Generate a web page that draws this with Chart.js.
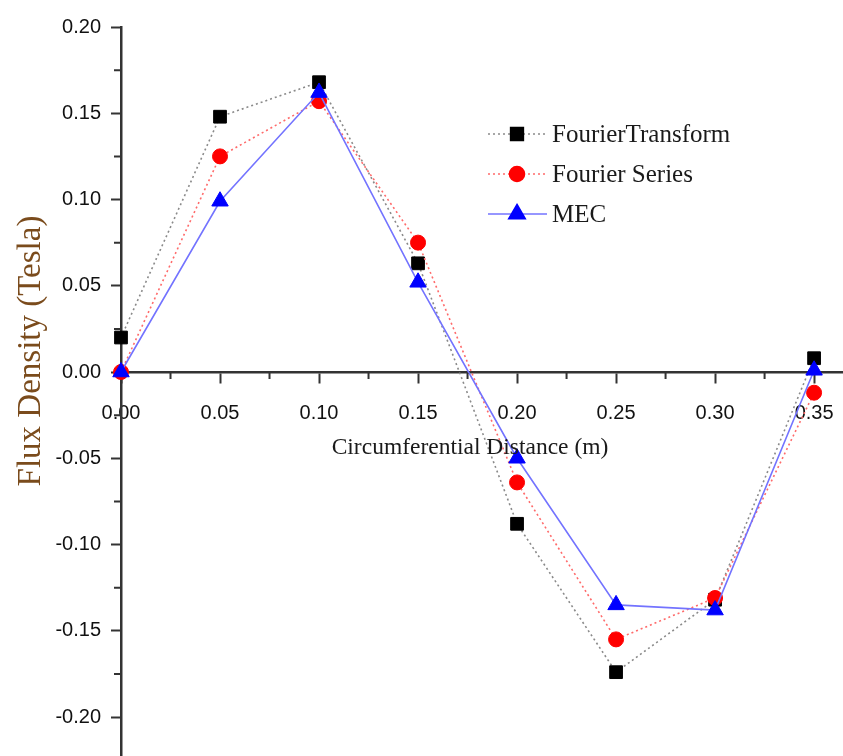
<!DOCTYPE html>
<html>
<head>
<meta charset="utf-8">
<script src="https://cdn.jsdelivr.net/npm/chart.js@4.4.0/dist/chart.umd.min.js"></script>
<style>
	html, body { margin: 0; padding: 0; background: #fff; }
	#wrap { width: 843px; height: 756px; position: relative; }
</style>
</head>
<body>
<div id="wrap"><canvas id="flux-chart" width="843" height="756"></canvas></div>
<script>
// data
var distance = [0.00, 0.05, 0.10, 0.15, 0.20, 0.25, 0.30, 0.35];
var fourierTransform = [0.020, 0.148, 0.168, 0.063, -0.088, -0.174, -0.132, 0.008];
var fourierSeries = [0.000, 0.125, 0.157, 0.075, -0.064, -0.155, -0.131, -0.012];
var mec = [0.000, 0.099, 0.162, 0.052, -0.050, -0.135, -0.138, 0.001];

var xTicks = [0.00, 0.05, 0.10, 0.15, 0.20, 0.25, 0.30, 0.35];
var yTicks = [-0.20, -0.15, -0.10, -0.05, 0.00, 0.05, 0.10, 0.15, 0.20];
var seriesNames = ["FourierTransform", "Fourier Series", "MEC"];

function toPoints(ys){
	return ys.map(function(v, i){ return {x: distance[i], y: v}; });
}

// minor ticks halfway between the major ones
function minorOf(ticks){
	var out = [];
	for (var i = 0; i < ticks.length - 1; i++) out.push((ticks[i] + ticks[i+1]) / 2);
	out.push(ticks[ticks.length-1] + (ticks[1] - ticks[0]) / 2);
	return out;
}

var extras = {
	id: 'extras',
	afterDraw: function(chart){
		var ctx = chart.ctx;
		var xs = chart.scales.x, ys = chart.scales.y;
		var y0 = ys.getPixelForValue(0);
		var x0 = xs.left;
		ctx.save();
		// minor ticks
		ctx.strokeStyle = '#333';
		ctx.lineWidth = 2;
		ctx.beginPath();
		minorOf(xTicks).forEach(function(v){
			var px = xs.getPixelForValue(v);
			if (px > xs.right) return;
			ctx.moveTo(px, y0 + 1); ctx.lineTo(px, y0 + 7);
		});
		minorOf(yTicks).forEach(function(v){
			var py = ys.getPixelForValue(v);
			if (py < ys.top || py > ys.bottom) return;
			ctx.moveTo(x0 - 1, py); ctx.lineTo(x0 - 7, py);
		});
		ctx.stroke();

		// axis titles
		ctx.fillStyle = '#1a1a1a';
		ctx.font = '23.5px "Liberation Serif", "Times New Roman", serif';
		ctx.textAlign = 'center';
		ctx.textBaseline = 'middle';
		ctx.fillText('Circumferential Distance (m)', 470, 448);

		ctx.save();
		ctx.translate(31, 351);
		ctx.rotate(-Math.PI / 2);
		ctx.fillStyle = '#7a4b1c';
		ctx.font = '33px "Liberation Serif", "Times New Roman", serif';
		ctx.fillText('Flux Density (Tesla)', 0, 0);
		ctx.restore();

		// legend
		var rowsY = [134, 174, 214];
		ctx.font = '25px "Liberation Serif", "Times New Roman", serif';
		ctx.textAlign = 'left';
		for (var i = 0; i < 3; i++){
			var ds = chart.data.datasets[i];
			var ry = rowsY[i];
			ctx.strokeStyle = ds.borderColor;
			ctx.lineWidth = ds.borderWidth;
			ctx.setLineDash(ds.borderDash || []);
			ctx.beginPath();
			ctx.moveTo(488, ry); ctx.lineTo(547, ry);
			ctx.stroke();
			ctx.setLineDash([]);
			ctx.fillStyle = ds.pointBackgroundColor;
			ctx.strokeStyle = ds.pointBorderColor;
			Chart.helpers.drawPoint(ctx, {pointStyle: ds.pointStyle, radius: ds.pointRadius, borderWidth: 1, rotation: 0}, 517, ry);
			ctx.fillStyle = '#1a1a1a';
			ctx.fillText(seriesNames[i], 552, ry + 1);
		}
		ctx.restore();
	}
};

new Chart(document.getElementById("flux-chart"), {
	type: 'line',
	data: {
		datasets: [
			{
				label: seriesNames[0],
				data: toPoints(fourierTransform),
				borderColor: '#8a8a8a',
				borderWidth: 1.6,
				borderDash: [2, 3],
				pointStyle: 'rect',
				pointRadius: 9,
				pointBackgroundColor: '#000',
				pointBorderColor: '#000',
				pointBorderWidth: 1,
				order: 3,
				clip: false
			},
			{
				label: seriesNames[1],
				data: toPoints(fourierSeries),
				borderColor: '#ff6a6a',
				borderWidth: 1.6,
				borderDash: [2, 3],
				pointStyle: 'circle',
				pointRadius: 7.5,
				pointBackgroundColor: '#ff0000',
				pointBorderColor: '#ff0000',
				pointBorderWidth: 1,
				order: 2,
				clip: false
			},
			{
				label: seriesNames[2],
				data: toPoints(mec),
				borderColor: '#7373ff',
				borderWidth: 1.6,
				pointStyle: 'triangle',
				pointRadius: 9.5,
				pointBackgroundColor: '#0000ff',
				pointBorderColor: '#0000ff',
				pointBorderWidth: 1,
				order: 1,
				clip: false
			}
		]
	},
	options: {
		responsive: false,
		animation: false,
		layout: { autoPadding: false, padding: { top: 27, left: 0, right: 0, bottom: 0 } },
		plugins: {
			legend: { display: false },
			tooltip: { enabled: false }
		},
		scales: {
			x: {
				type: 'linear',
				min: 0,
				max: 0.3646,
				position: { y: 0 },
				afterBuildTicks: function(scale){
					scale.ticks = xTicks.map(function(v){ return {value: v}; });
				},
				afterFit: function(scale){
					scale.paddingLeft = 0;
					scale.paddingRight = 0;
				},
				grid: { drawOnChartArea: false, drawTicks: true, tickLength: 10, tickWidth: 2, tickColor: '#333' },
				border: { display: true, color: '#333', width: 2.5 },
				ticks: {
					padding: 19,
					color: '#111',
					font: { family: '"Liberation Sans", Arial, sans-serif', size: 20 },
					callback: function(v){ return Number(v).toFixed(2); }
				}
			},
			y: {
				type: 'linear',
				min: -0.2226,
				max: 0.20,
				position: 'left',
				afterBuildTicks: function(scale){
					scale.ticks = yTicks.map(function(v){ return {value: v}; });
				},
				afterFit: function(scale){
					scale.width = 121;
					scale.paddingTop = 0;
					scale.paddingBottom = 0;
				},
				grid: { drawOnChartArea: false, drawTicks: true, tickLength: 10, tickWidth: 2, tickColor: '#333' },
				border: { display: true, color: '#333', width: 2.5 },
				ticks: {
					padding: 10,
					color: '#111',
					font: { family: '"Liberation Sans", Arial, sans-serif', size: 20 },
					callback: function(v){ return Number(v).toFixed(2); }
				}
			}
		}
	},
	plugins: [extras]
});
</script>
</body>
</html>
